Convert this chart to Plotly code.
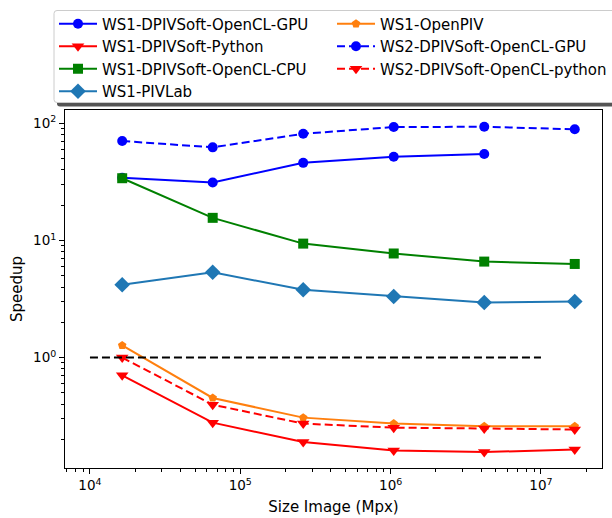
import plotly.graph_objects as go

sizes = [16384, 65536, 262144, 1048576, 4194304, 16777216]

ws1_gpu = [34.3, 31.3, 46.0, 51.9, 54.7]
ws1_python = [0.706, 0.278, 0.19, 0.161, 0.156, 0.164]
ws1_cpu = [34.0, 15.6, 9.4, 7.74, 6.6, 6.3]
ws1_pivlab = [4.18, 5.35, 3.79, 3.32, 2.95, 3.01]
ws1_openpiv = [1.27, 0.452, 0.307, 0.273, 0.259, 0.259]
ws2_gpu = [70.7, 62.4, 81.5, 93.0, 93.5, 89.0]
ws2_python = [1.0, 0.396, 0.273, 0.252, 0.248, 0.243]

ref_x = [1e4, 1e7]
ref_y = [1.0, 1.0]

series = [
    ("WS1-DPIVSoft-OpenCL-GPU", ws1_gpu, "#0000ff", "circle", "solid", 10, 1),
    ("WS1-DPIVSoft-Python", ws1_python, "#ff0000", "triangle-down", "solid", 11, 3),
    ("WS1-DPIVSoft-OpenCL-CPU", ws1_cpu, "#008000", "square", "solid", 10, 5),
    ("WS1-PIVLab", ws1_pivlab, "#1f77b4", "diamond", "solid", 12, 7),
    ("WS1-OpenPIV", ws1_openpiv, "#ff7f0e", "pentagon", "solid", 9, 2),
    ("WS2-DPIVSoft-OpenCL-GPU", ws2_gpu, "#0000ff", "circle", "8px,4px", 10, 4),
    ("WS2-DPIVSoft-OpenCL-python", ws2_python, "#ff0000", "triangle-down", "8px,4px", 11, 6),
]

fig = go.Figure()
for name, vals, color, sym, dash, msize, rank in series:
    fig.add_trace(go.Scatter(
        x=sizes[:len(vals)], y=vals, name=name, mode="lines+markers",
        line=dict(color=color, width=2, dash=dash),
        marker=dict(symbol=sym, size=msize, color=color, line=dict(width=0)),
        legendrank=rank,
    ))

fig.add_trace(go.Scatter(x=ref_x, y=ref_y, mode="lines", showlegend=False,
                         line=dict(color="black", width=2, dash="8px,4px")))

L, R, T, B = 65, 10, 110, 50
W, H = 612, 518
pw, ph = W - L - R, H - T - B

def px2paper_x(px):
    return (px - L) / pw

def px2paper_y(py):
    return 1 - (py - T) / ph

def rounded_rect(x0, y0, x1, y1, r):
    X = px2paper_x
    Y = px2paper_y
    return (f"M{X(x0 + r)},{Y(y0)} L{X(x1 - r)},{Y(y0)} Q{X(x1)},{Y(y0)} {X(x1)},{Y(y0 + r)} "
            f"L{X(x1)},{Y(y1 - r)} Q{X(x1)},{Y(y1)} {X(x1 - r)},{Y(y1)} "
            f"L{X(x0 + r)},{Y(y1)} Q{X(x0)},{Y(y1)} {X(x0)},{Y(y1 - r)} "
            f"L{X(x0)},{Y(y0 + r)} Q{X(x0)},{Y(y0)} {X(x0 + r)},{Y(y0)} Z")

# legend shadow and frame
fig.add_shape(type="path", xref="paper", yref="paper",
              path=rounded_rect(57, 14, 640, 106.5, 3),
              fillcolor="#555555", line=dict(width=0), layer="above")
fig.add_shape(type="path", xref="paper", yref="paper",
              path=rounded_rect(54, 10.5, 636, 102.5, 3),
              fillcolor="white", line=dict(width=1, color="#cccccc"), layer="above")

minor_x = [m * 10 ** e for e in range(3, 8) for m in range(2, 10)]
minor_y = [m * 10 ** e for e in range(-1, 3) for m in range(2, 10)]

fig.update_layout(
    width=W, height=H,
    margin=dict(l=L, r=R, t=T, b=B, autoexpand=False),
    paper_bgcolor="white", plot_bgcolor="white",
    font=dict(family="DejaVu Sans", size=13, color="black"),
    showlegend=True,
    legend=dict(
        orientation="h", x=px2paper_x(54), y=px2paper_y(7.5),
        xanchor="left", yanchor="top",
        entrywidth=225, entrywidthmode="pixels",
        bgcolor="rgba(0,0,0,0)", borderwidth=0,
        font=dict(family="DejaVu Sans", size=15),
        itemwidth=38, traceorder="normal",
    ),
    xaxis=dict(
        type="log", range=[3.834, 7.406],
        tickvals=[1e4, 1e5, 1e6, 1e7],
        ticktext=["10<sup>4</sup>", "10<sup>5</sup>", "10<sup>6</sup>", "10<sup>7</sup>"],
        ticks="outside", ticklen=5, tickwidth=1, tickcolor="black",
        showline=True, linecolor="black", linewidth=1, mirror=True,
        showgrid=False, zeroline=False,
        tickfont=dict(size=13.5),
        minor=dict(tickvals=minor_x, ticks="outside", ticklen=3, tickcolor="black", showgrid=False),
        title=dict(text="Size Image (Mpx)", font=dict(size=15), standoff=9),
    ),
    yaxis=dict(
        type="log", range=[-0.943, 2.114],
        tickvals=[1, 10, 100],
        ticktext=["10<sup>0</sup>", "10<sup>1</sup>", "10<sup>2</sup>"],
        ticks="outside", ticklen=5, tickwidth=1, tickcolor="black",
        showline=True, linecolor="black", linewidth=1, mirror=True,
        showgrid=False, zeroline=False,
        tickfont=dict(size=13.5),
        minor=dict(tickvals=minor_y, ticks="outside", ticklen=3, tickcolor="black", showgrid=False),
        title=dict(text="Speedup", font=dict(size=15), standoff=6),
    ),
)

fig.write_html("out.html", config={"displayModeBar": False},
               post_script="document.body.style.margin='0px';")
